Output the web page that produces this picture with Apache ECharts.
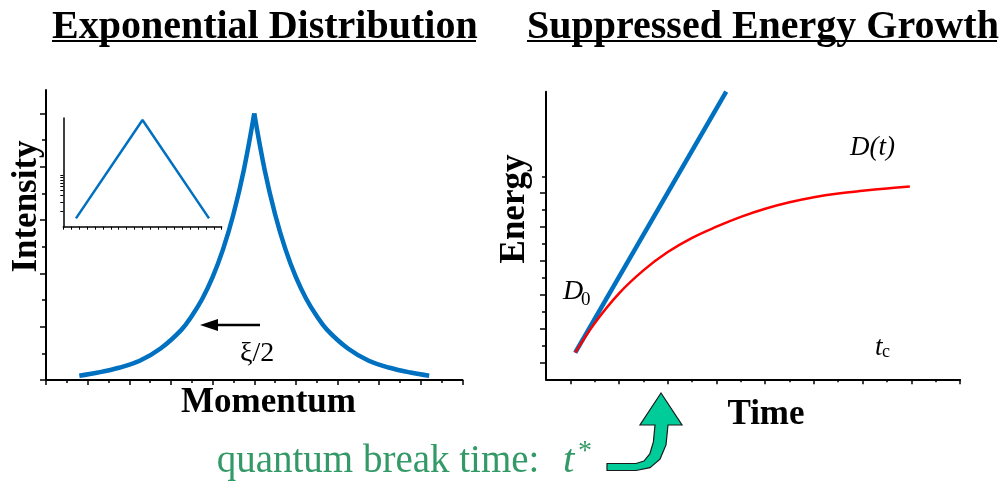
<!DOCTYPE html>
<html>
<head>
<meta charset="utf-8">
<script src="https://cdn.jsdelivr.net/npm/echarts@6/dist/echarts.min.js"></script>
<style>
html, body { margin: 0; padding: 0; background: #fff; }
#chart { width: 1001px; height: 485px; }
</style>
</head>
<body>
<div id="chart"></div>
<script>
// left panel - exponential distribution (peak at 0)
var momentum = [-4.2, -3.75, -3.25, -2.75, -2.25, -1.75, -1.5, -1.25, -1, -0.75, -0.5, -0.25, 0,
  0.25, 0.5, 0.75, 1, 1.25, 1.5, 1.75, 2.25, 2.75, 3.25, 3.75, 4.2];
var intensity = [0.08, 0.14, 0.23, 0.36, 0.59, 0.94, 1.2, 1.52, 1.93, 2.45, 3.11, 3.94, 5.0,
  3.94, 3.11, 2.45, 1.93, 1.52, 1.2, 0.94, 0.59, 0.36, 0.23, 0.14, 0.08];
var intensityMajor = [0, 1, 2, 3, 4, 5];
var intensityMinor = [0.5, 1.5, 2.5, 3.5, 4.5];

// inset - same curve on log scale (log10 units)
var insetMomentum = [-4.2, 0, 4.2];
var insetLogIntensity = [0.16, 2.06, 0.16];
var insetTicks = [0.301, 0.477, 0.602, 0.699, 0.778, 0.845, 0.903, 0.954, 1];

// right panel - energy growth
var timeBlue = [0.1, 3.2];
var energyBlue = [0.29, 8.0];
var timeRed = [0.1, 0.5, 1.0, 1.5, 2.0, 2.5, 3.0, 3.5, 4.0, 4.5, 5.0, 5.5, 6.0, 6.5, 6.97];
var energyRed = [0.29, 1.16, 2.04, 2.72, 3.26, 3.68, 4.01, 4.3, 4.54, 4.73, 4.88, 4.99, 5.07, 5.14, 5.2];
var timeMajor = [0, 1, 2, 3, 4, 5, 6, 7, 8];
var timeMinor = [0.5, 1.5, 2.5, 3.5, 4.5, 5.5, 6.5, 7.5];
var energyMajor = [0, 1, 2, 3, 4, 5];
var energyMinor = [0.5, 1.5, 2.5, 3.5, 4.5, 5.5];

var serif = 'Liberation Serif';
var blue = '#0070C0';

function pairs(xs, ys) {
  var out = [];
  for (var i = 0; i < xs.length; i++) out.push([xs[i], ys[i]]);
  return out;
}
var peak = momentum.indexOf(0);
var leftHalf = pairs(momentum.slice(0, peak + 1), intensity.slice(0, peak + 1));
var rightHalf = pairs(momentum.slice(peak), intensity.slice(peak));

// plain axis, no labels / split lines
function ax(o) {
  var a = {
    type: 'value',
    axisLabel: { show: false },
    splitLine: { show: false },
    axisLine: { show: true, onZero: false, lineStyle: { color: '#000', width: 2 } },
    axisTick: { show: true, length: 5, lineStyle: { color: '#000', width: 1.5 } }
  };
  for (var k in o) a[k] = o[k];
  return a;
}
function ticks(vals, len) {
  return { show: true, customValues: vals, length: len, lineStyle: { color: '#000', width: 1.5 } };
}
var noLine = { show: false, onZero: false };
function txt(x, y, s, size, o) {
  o = o || {};
  return {
    type: 'text', x: x, y: y, rotation: o.rot || 0, z: 100,
    style: {
      text: s, fontFamily: serif, fontSize: size,
      fontWeight: o.bold ? 'bold' : 'normal',
      fontStyle: o.italic ? 'italic' : 'normal',
      fill: o.color || '#000',
      align: o.align || 'left', verticalAlign: 'middle'
    }
  };
}

var chart = echarts.init(document.getElementById('chart'));
chart.setOption({
  animation: false,
  backgroundColor: '#fff',
  title: [
    { text: 'Exponential Distribution', left: 52, top: 8, padding: 0,
      textStyle: { fontFamily: serif, fontWeight: 'bold', fontSize: 40, color: '#000' } },
    { text: 'Suppressed Energy Growth', left: 527, top: 8, padding: 0,
      textStyle: { fontFamily: serif, fontWeight: 'bold', fontSize: 40, color: '#000' } }
  ],
  grid: [
    { left: 46, top: 90, width: 416.5, height: 290 },
    { left: 63.3, top: 118, width: 158.4, height: 108.7 },
    { left: 546, top: 91.7, width: 414, height: 287.6 }
  ],
  xAxis: [
    ax({ gridIndex: 0, min: -5, max: 5, interval: 1,
      minorTick: { show: true, splitNumber: 2, length: 3, lineStyle: { color: '#000', width: 1.5 } } }),
    ax({ gridIndex: 1, min: -5, max: 5, interval: 0.5,
      axisLine: { show: true, onZero: false, lineStyle: { color: '#000', width: 1.5 } },
      axisTick: { show: true, length: 3, lineStyle: { color: '#000', width: 1 } } }),
    ax({ gridIndex: 2, min: -0.5, max: 8, axisTick: ticks(timeMajor, 5) }),
    ax({ gridIndex: 2, min: -0.5, max: 8, position: 'bottom', axisLine: noLine,
      axisTick: ticks(timeMinor, 3) })
  ],
  yAxis: [
    ax({ gridIndex: 0, min: 0, max: 5.44, axisTick: ticks(intensityMajor, 6) }),
    ax({ gridIndex: 0, min: 0, max: 5.44, position: 'left', axisLine: noLine,
      axisTick: ticks(intensityMinor, 4) }),
    ax({ gridIndex: 1, min: 0, max: 2.1,
      axisLine: { show: true, onZero: false, lineStyle: { color: '#000', width: 1.5 } },
      axisTick: { show: true, customValues: insetTicks, length: 3, lineStyle: { color: '#000', width: 1 } } }),
    ax({ gridIndex: 2, min: -0.5, max: 8, axisTick: ticks(energyMajor, 6) }),
    ax({ gridIndex: 2, min: -0.5, max: 8, position: 'left', axisLine: noLine,
      axisTick: ticks(energyMinor, 4) })
  ],
  series: [
    { type: 'line', xAxisIndex: 0, yAxisIndex: 0, data: leftHalf, smooth: 0.4, symbol: 'none',
      lineStyle: { color: blue, width: 4.5 } },
    { type: 'line', xAxisIndex: 0, yAxisIndex: 0, data: rightHalf, smooth: 0.4, symbol: 'none',
      lineStyle: { color: blue, width: 4.5 } },
    { type: 'line', xAxisIndex: 1, yAxisIndex: 2, data: pairs(insetMomentum, insetLogIntensity),
      symbol: 'none', lineStyle: { color: blue, width: 2.5 } },
    { type: 'line', xAxisIndex: 2, yAxisIndex: 3, data: pairs(timeRed, energyRed), smooth: 0.4,
      symbol: 'none', lineStyle: { color: '#ff0000', width: 2.5 }, z: 3 },
    { type: 'line', xAxisIndex: 2, yAxisIndex: 3, data: pairs(timeBlue, energyBlue), clip: false,
      symbol: 'none', lineStyle: { color: blue, width: 4.5 }, z: 2 }
  ],
  graphic: [
    // title underlines
    { type: 'line', shape: { x1: 52, y1: 41, x2: 476, y2: 41 }, style: { stroke: '#000', lineWidth: 2 } },
    { type: 'line', shape: { x1: 527, y1: 41, x2: 997, y2: 41 }, style: { stroke: '#000', lineWidth: 2 } },
    // axis titles
    txt(26.5, 206.5, 'Intensity', 35, { bold: true, rot: Math.PI / 2, align: 'center' }),
    txt(268.5, 402.5, 'Momentum', 35, { bold: true, align: 'center' }),
    txt(515, 209, 'Energy', 35, { bold: true, rot: Math.PI / 2, align: 'center' }),
    txt(766, 415, 'Time', 35, { bold: true, align: 'center' }),
    // xi/2 arrow
    { type: 'line', shape: { x1: 212, y1: 325, x2: 260, y2: 325 }, style: { stroke: '#000', lineWidth: 2.3 } },
    { type: 'polygon', shape: { points: [[200, 325], [218, 319], [218, 331]] }, style: { fill: '#000' } },
    txt(240, 354, 'ξ/2', 28),
    // curve labels
    txt(563, 291.2, 'D', 28, { italic: true }),
    txt(581, 300.5, '0', 19),
    txt(850, 147.6, 'D(t)', 27, { italic: true }),
    txt(875, 347.6, 't', 27, { italic: true }),
    txt(882, 352, 'c', 18),
    // quantum break time
    txt(216.7, 461.5, 'quantum break time:', 39, { color: '#339966' }),
    txt(563, 461, 't', 41, { italic: true, color: '#339966' }),
    txt(578, 452, '*', 28, { color: '#339966' }),
    { type: 'polygon', z: 100,
      shape: { points: [[607, 463.5], [636, 463.5], [643.9, 461.1], [649.8, 453.9], [653.4, 441.9], [655, 425],
        [640, 425], [661, 393], [682, 425], [668, 425],
        [666, 444.9], [660, 459.1], [650, 467.7], [636, 470.5], [607, 470.5]] },
      style: { fill: '#00CC99', stroke: '#1a1a1a', lineWidth: 1.2 } }
  ]
});
</script>
</body>
</html>
